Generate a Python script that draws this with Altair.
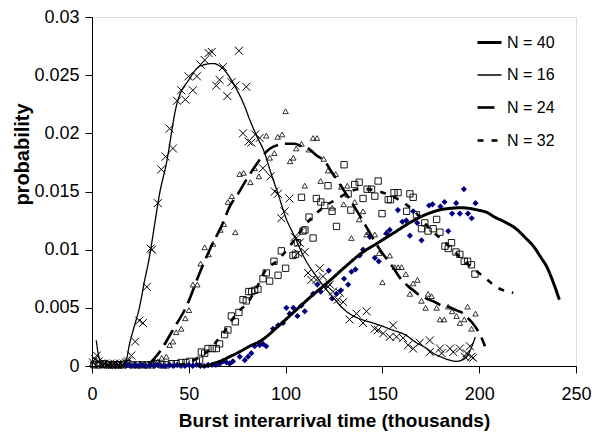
import altair as alt
import pandas as pd

FONT = "Liberation Sans"
ORDER = ["N = 40", "N = 16", "N = 24", "N = 32"]

# ---------- fitted curves ----------
c16_x = [2.2, 3.5, 5, 10, 16, 17.7, 19.4, 22, 24.6, 27, 29.7, 32, 34.9, 38.4, 43.5, 50.4, 56, 62.5, 68, 74,
         78.9, 81.4, 85, 89.2, 92, 96.1, 100, 104.7, 110, 115.9, 120, 124.5, 130.6, 135, 139.2, 145, 150.4,
         155, 161.6, 167.6, 172, 176.2, 180, 184.8, 188, 191, 194, 196, 198]
c16_y = [0.0022, 0.0008, 0.0002, 0.0001, 0.0001, 0.0005, 0.0019, 0.0035, 0.0051, 0.0072, 0.0094, 0.0118,
         0.0148, 0.0174, 0.0223, 0.0247, 0.0258, 0.0260, 0.0255, 0.0240, 0.0223, 0.0212, 0.0198, 0.0183,
         0.0168, 0.0148, 0.0128, 0.0111, 0.0092, 0.0077, 0.0068, 0.0059, 0.0048, 0.0043, 0.0040, 0.0037,
         0.0034, 0.0031, 0.0027, 0.0020, 0.0016, 0.0011, 0.0008, 0.0005, 0.0004, 0.0005, 0.0009, 0.0016, 0.0025]

c24_x = [29.7, 34.9, 41.8, 48.7, 55.6, 60.8, 67.6, 71.1, 75.4, 79.7, 84, 88.3, 92, 96.1, 100, 104.7, 108,
         112.5, 116, 120.2, 123.7, 128.9, 132, 136.6, 142.6, 146, 150.4, 155, 159, 163, 166, 169, 172.8,
         177, 180.6, 184, 188, 191, 194.3, 196.5, 198.7, 201, 203]
c24_y = [0.0002, 0.0012, 0.0031, 0.0051, 0.0080, 0.0100, 0.0123, 0.0137, 0.0148, 0.0160, 0.0171, 0.0181,
         0.0187, 0.0190, 0.0191, 0.0191, 0.0189, 0.0186, 0.0181, 0.0176, 0.0167, 0.0154, 0.0146, 0.0134,
         0.0117, 0.0107, 0.0096, 0.0086, 0.0076, 0.0069, 0.0065, 0.0061, 0.0058, 0.0055, 0.0052, 0.0051,
         0.0048, 0.0046, 0.0041, 0.0037, 0.0032, 0.0025, 0.0017]

c32_x = [45, 50, 55, 60, 64.2, 69, 74.6, 80.6, 85, 89.2, 96.1, 103, 108.2, 113.3, 120, 127.1, 133.1, 138,
         142.6, 146, 150.4, 157.3, 165.9, 174.5, 183.1, 191.7, 202.1, 209.8, 217.6]
c32_y = [0.0001, 0.0003, 0.0007, 0.0013, 0.0021, 0.0031, 0.0045, 0.0055, 0.0067, 0.0081, 0.0091, 0.0105,
         0.0117, 0.0127, 0.0137, 0.0144, 0.0150, 0.0152, 0.0152, 0.0151, 0.0149, 0.0144, 0.0134, 0.0118,
         0.0105, 0.0091, 0.0077, 0.0067, 0.0063]

c40_x = [55, 60, 62.5, 66, 71.1, 76, 81.4, 87.5, 96.1, 104.7, 113.3, 121.9, 130.6, 139.2, 147.8, 156.4,
         165, 173.6, 182.3, 190.9, 199.5, 204, 208, 213, 219, 224, 228, 232, 235, 238, 241.4]
c40_y = [0.0, 0.0, 0.0002, 0.0004, 0.0008, 0.0012, 0.0017, 0.0022, 0.0034, 0.0047, 0.0060, 0.0072, 0.0085,
         0.0097, 0.0106, 0.0115, 0.0124, 0.0131, 0.0135, 0.0136, 0.0134, 0.0132, 0.0128, 0.0124, 0.0118,
         0.0110, 0.0103, 0.0093, 0.0085, 0.0073, 0.0057]

# ---------- observed points ----------
p16_x = [0.5, 1.5, 2.5, 3.5, 4.5, 5.5, 6.5, 7.5, 8.5, 9.5, 10.5, 11.5, 12.5, 13.5, 14.5, 15.5, 16.5, 17.5,
         18.5, 20.3, 22.3, 24.4, 26.3, 28.3, 30.3, 31.0, 34, 35.8, 38, 40.1, 41.8, 43.9, 46.1, 48.2, 49.9,
         52.1, 54.2, 56.1, 58.2, 60.2, 61.9, 64.2, 65.9, 67.6, 69.9, 72, 74, 75.9, 78, 79.7, 80.9, 82.3,
         84.3, 86.6, 88.3, 92.2, 94.4, 96, 97.8, 99.5, 102, 104.7, 105.6, 106.4, 107.3, 109.9, 111.6, 113.3,
         115.9, 117.6, 119.3, 121.9, 122.8, 124.5, 127, 128, 129.7, 133, 136.6, 140, 141.8, 146, 147.8,
         150.4, 153.8, 155.5, 157.3, 160.7, 163.3, 165.9, 169.3, 174.5, 174.5, 179.7, 180.6, 184.9, 186.6,
         190, 192.6, 193.5, 195.2, 196, 196.9]
p16_y = [0.0003, 0.0006, 0.0009, 0.0004, 0.0002, 0.0001, 0.0002, 0.0001, 0.0001, 0.0002, 0.0001, 0.0002,
         0.0001, 0.0001, 0.0002, 0.0001, 0.0002, 0.0003, 0.0004, 0.0009, 0.0021, 0.0039, 0.0037, 0.0068,
         0.0101, 0.0100, 0.0140, 0.0169, 0.0180, 0.0204, 0.0187, 0.0228, 0.0237, 0.0229, 0.0249, 0.0237,
         0.0249, 0.0259, 0.0263, 0.0269, 0.0270, 0.0241, 0.0246, 0.0257, 0.0232, 0.0244, 0.0241, 0.0271,
         0.0200, 0.0240, 0.0193, 0.0192, 0.0199, 0.0196, 0.0170, 0.0163, 0.0150, 0.0148, 0.0127, 0.0133,
         0.0144, 0.0111, 0.0110, 0.0097, 0.0106, 0.0098, 0.0080, 0.0074, 0.0074, 0.0084, 0.0077, 0.0068,
         0.0070, 0.0064, 0.0057, 0.0063, 0.0055, 0.0040, 0.0045, 0.0037, 0.0047, 0.0032, 0.0031, 0.0028,
         0.0025, 0.0035, 0.0025, 0.0024, 0.0018, 0.0015, 0.0020, 0.0022, 0.0012, 0.0015, 0.0011, 0.0015,
         0.0012, 0.0015, 0.0008, 0.0011, 0.0017, 0.0008, 0.0007]

p24_x = [1, 3, 5, 7, 9, 11, 13, 15, 17, 19, 21, 23, 25, 27, 29, 31, 32.5, 34, 36, 38.4, 40.1, 41.8, 43.5,
         46.1, 48.2, 50.1, 52.1, 54.4, 56.1, 58.2, 60.2, 62.5, 66.3, 68.1, 70.2, 72.2, 74, 76.3, 78.3, 81.8,
         84, 86.2, 90, 91.8, 94.2, 95.9, 98.2, 100, 102.3, 104, 105.5, 108.2, 109.9, 112, 114.2, 116.2,
         118.1, 119.7, 121.9, 124, 125.9, 128.8, 130, 131.9, 134, 135.7, 138, 140, 141.8, 143, 146.1, 148.3,
         150, 152.1, 153.8, 156.4, 158.1, 159.9, 162.1, 164.2, 165.9, 168.1, 170.2, 172.3, 173.6, 175.4,
         178, 179.7, 181.9, 184, 186, 188.3, 190, 192.3, 194, 196, 198.1]
p24_y = [0.0001, 0.0002, 0.0001, 0.0001, 0.0002, 0.0001, 0.0001, 0.0001, 0.0002, 0.0001, 0.0001, 0.0001,
         0.0002, 0.0001, 0.0002, 0.0003, 0.0004, 0.0004, 0.0007, 0.0008, 0.0018, 0.0021, 0.0029, 0.0032,
         0.0041, 0.0048, 0.0070, 0.0070, 0.0088, 0.0102, 0.0096, 0.0105, 0.0117, 0.0122, 0.0141, 0.0146,
         0.0115, 0.0165, 0.0166, 0.0158, 0.0170, 0.0163, 0.0198, 0.0179, 0.0183, 0.0197, 0.0199, 0.0219,
         0.0176, 0.0179, 0.0187, 0.0191, 0.0155, 0.0186, 0.0196, 0.0196, 0.0159, 0.0178, 0.0168, 0.0136,
         0.0165, 0.0154, 0.0139, 0.0155, 0.0110, 0.0141, 0.0126, 0.0133, 0.0113, 0.0115, 0.0113, 0.0097,
         0.0072, 0.0115, 0.0095, 0.0085, 0.0085, 0.0085, 0.0079, 0.0062, 0.0071, 0.0074, 0.0056, 0.0050,
         0.0062, 0.0060, 0.0050, 0.0040, 0.0040, 0.0051, 0.0047, 0.0043, 0.0037, 0.0040, 0.0051, 0.0032,
         0.0045]

p32_x = [1, 3.5, 6, 8.5, 11, 13.5, 16, 18.5, 21, 23.5, 26, 28.5, 31, 33.5, 36, 38.5, 41, 43.5, 46, 48.5,
         50.4, 53.9, 55.6, 56.5, 58.2, 59.9, 62.1, 64.2, 65.9, 68.5, 70.2, 72, 74, 75.9, 78, 79.7, 81, 82.5,
         84, 85.7, 88.3, 90, 91.8, 94, 96.1, 97.8, 100, 103.8, 105.1, 106.1, 108.2, 109, 110, 112.1, 114.2,
         115.9, 118.2, 120.2, 121.9, 124, 126.3, 130.2, 132.3, 133.7, 135.7, 138, 140, 142.1, 144.4, 146.1,
         147.8, 149.8, 153, 154.2, 156, 158.1, 162.5, 164.2, 165.9, 167.6, 170.2, 171.9, 173.6, 176.2, 178,
         179.7, 182.3, 184, 185.7, 188, 190, 192.3, 194, 196, 197.8]
p32_y = [0.0001, 0.0001, 0.0002, 0.0001, 0.0001, 0.0001, 0.0001, 0.0002, 0.0001, 0.0001, 0.0001, 0.0001,
         0.0001, 0.0002, 0.0001, 0.0001, 0.0002, 0.0002, 0.0003, 0.0003, 0.0004, 0.0004, 0.0005, 0.0012,
         0.0011, 0.0015, 0.0015, 0.0015, 0.0019, 0.0027, 0.0031, 0.0043, 0.0038, 0.0046, 0.0057, 0.0056,
         0.0064, 0.0064, 0.0065, 0.0066, 0.0075, 0.0080, 0.0073, 0.0090, 0.0078, 0.0099, 0.0084, 0.0095,
         0.0096, 0.0106, 0.0145, 0.0116, 0.0117, 0.0128, 0.0110, 0.0144, 0.0141, 0.0138, 0.0155, 0.0133,
         0.0120, 0.0173, 0.0148, 0.0134, 0.0156, 0.0158, 0.0144, 0.0152, 0.0152, 0.0146, 0.0159, 0.0131,
         0.0143, 0.0143, 0.0149, 0.0149, 0.0133, 0.0148, 0.0145, 0.0130, 0.0118, 0.0123, 0.0116, 0.0118,
         0.0126, 0.0115, 0.0103, 0.0101, 0.0106, 0.0098, 0.0096, 0.0090, 0.0090, 0.0087, 0.0079]

p40_x = [18, 20, 22, 24, 26, 28, 30, 32, 34, 36, 38, 40, 42, 44, 46, 48, 50, 52, 54, 56, 58, 60, 62, 64, 66,
         67.6, 69.5, 71.1, 72.8, 76.3, 78.9, 80.6, 82.3, 84, 86.6, 88.3, 90, 93.5, 96.1, 98.7, 100.4, 102.1,
         104, 106.1, 108.2, 109.9, 114.2, 116.4, 118.1, 120.2, 122.3, 124, 126.3, 128.5, 130.2, 132.3, 134,
         136.1, 138.3, 140, 143.5, 146.1, 148.1, 152.1, 153.8, 158, 160.3, 162.3, 164.2, 165.9, 168, 170.2,
         174.1, 175.9, 180, 182.1, 184, 186, 188.1, 190, 192.1, 194.2, 196.1, 198.1]
p40_y = [0.0001, 0.0, 0.0001, 0.0, 0.0001, 0.0, 0.0001, 0.0, 0.0001, 0.0, 0.0, 0.0001, 0.0, 0.0001, 0.0, 0.0,
         0.0001, 0.0, 0.0001, 0.0, 0.0, 0.0001, 0.0001, 0.0001, 0.0002, 0.0004, 0.0003, 0.0002, 0.0004,
         0.0008, 0.0005, 0.0008, 0.0011, 0.0017, 0.0018, 0.0019, 0.0017, 0.0032, 0.0035, 0.0037, 0.0050,
         0.0045, 0.0050, 0.0043, 0.0052, 0.0047, 0.0062, 0.0070, 0.0064, 0.0069, 0.0082, 0.0058, 0.0062,
         0.0065, 0.0075, 0.0070, 0.0081, 0.0083, 0.0095, 0.0100, 0.0111, 0.0093, 0.0090, 0.0114, 0.0117,
         0.0134, 0.0124, 0.0125, 0.0112, 0.0133, 0.0123, 0.0108, 0.0138, 0.0139, 0.0137, 0.0141, 0.0116,
         0.0131, 0.0140, 0.0131, 0.0152, 0.0131, 0.0127, 0.0140]

x_ticks = [0, 50, 100, 150, 200, 250]
y_ticks = [0, 0.005, 0.01, 0.015, 0.02, 0.025, 0.03]

# ---------- tables ----------
curves = pd.concat([
    pd.DataFrame({"x": c40_x, "y": c40_y, "series": "N = 40"}),
    pd.DataFrame({"x": c16_x, "y": c16_y, "series": "N = 16"}),
    pd.DataFrame({"x": c24_x, "y": c24_y, "series": "N = 24"}),
    pd.DataFrame({"x": c32_x, "y": c32_y, "series": "N = 32"}),
], ignore_index=True)

d16 = pd.DataFrame({"x": p16_x, "y": p16_y})
d24 = pd.DataFrame({"x": p24_x, "y": p24_y})
d32 = pd.DataFrame({"x": p32_x, "y": p32_y})
d40 = pd.DataFrame({"x": p40_x, "y": p40_y})

xs = alt.Scale(domain=[0, 250], nice=False, zero=False)
ys = alt.Scale(domain=[0, 0.03], nice=False)

x_axis = alt.Axis(values=x_ticks, grid=False, title="Burst interarrival time (thousands)",
                  domainColor="black", tickColor="black", tickSize=7, labelFontSize=18,
                  labelFont=FONT, labelColor="black", labelPadding=12, labelFlush=False,
                  titleFont=FONT, titleFontSize=19, titleFontWeight="bold", titleColor="black",
                  titleY=60, titleBaseline="alphabetic")
y_axis = alt.Axis(values=y_ticks, grid=False, title="probability", format="~g",
                  domainColor="black", tickColor="black", tickSize=7, labelFontSize=18,
                  labelFont=FONT, labelColor="black", labelPadding=6, labelFlush=False,
                  titleFont=FONT, titleFontSize=20, titleFontWeight="bold", titleColor="black",
                  titleX=-64, titleY=137, titleBaseline="alphabetic", titleAngle=270)

X = alt.X("x:Q", scale=xs, axis=x_axis)
Y = alt.Y("y:Q", scale=ys, axis=y_axis)
Xn = alt.X("x:Q", scale=xs)
Yn = alt.Y("y:Q", scale=ys)

cross_path = "M-1,-1L1,1M-1,1L1,-1"

pts16 = alt.Chart(d16).mark_point(shape=cross_path, filled=False, stroke="black",
                                  strokeWidth=1, size=64, opacity=1).encode(x=X, y=Y)
pts24 = alt.Chart(d24).mark_point(shape="triangle-up", filled=False, stroke="black",
                                  strokeWidth=0.8, size=30, opacity=1).encode(x=Xn, y=Yn)
pts32 = alt.Chart(d32).mark_point(shape="square", filled=False, stroke="black",
                                  strokeWidth=0.9, size=40, opacity=1).encode(x=Xn, y=Yn)
pts40 = alt.Chart(d40).mark_point(shape="diamond", filled=True, fill="#000080",
                                  strokeWidth=0, size=38, opacity=1).encode(x=Xn, y=Yn)

leg = alt.Legend(title=None, orient="none", legendX=384, legendY=12, symbolType="stroke",
                 symbolSize=576, symbolStrokeColor="black", labelFont=FONT, labelFontSize=16,
                 labelColor="black", labelOffset=4, rowPadding=11, padding=0)

lines = alt.Chart(curves).mark_line(color="black", interpolate="monotone").encode(
    x=Xn, y=Yn,
    detail="series:N",
    strokeDash=alt.StrokeDash("series:N", scale=alt.Scale(domain=ORDER,
                              range=[[1, 0], [1, 0], [17, 7], [6, 8]]), legend=leg),
    strokeWidth=alt.StrokeWidth("series:N", scale=alt.Scale(type="ordinal", domain=ORDER,
                                range=[3, 1.3, 2.6, 2.6]), legend=leg),
)

chart = alt.layer(pts16, pts24, pts32, pts40, lines).properties(
    width=484, height=349,
    padding={"left": 92, "top": 17, "right": 25, "bottom": 71},
    autosize=alt.AutoSizeParams(type="none"),
).configure_view(stroke="#444444", strokeWidth=1.5).configure(background="white")

chart.save("out.html", embed_options={"renderer": "svg", "actions": False})
